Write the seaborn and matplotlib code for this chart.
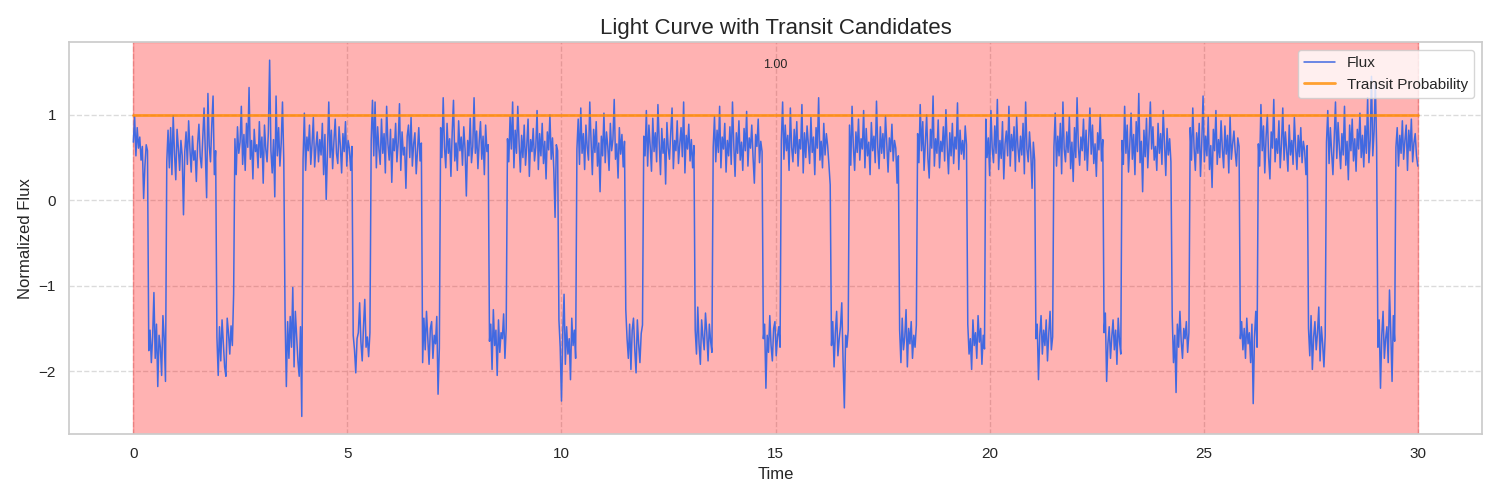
import numpy as np
import matplotlib
matplotlib.use("Agg")
import matplotlib.pyplot as plt
import seaborn as sns

# Flux readings (1000 samples over 0..30).
# One block per out-of-transit stretch followed by the dip that comes after it.
flux = [
    # 0.00 - 0.33
    0.68, 0.98, 0.52, 0.85, 0.61, 0.74, 0.47, 0.63, 0.02, 0.40, 0.65, 0.58,
    -1.76, -1.52, -1.90, -1.60, -1.08, -1.85, -1.45, -2.18, -1.58, -1.72, -2.05, -1.35, -1.62, -2.12,
    # 0.78 - 1.92
    0.45, 0.82, 0.38, 0.85, 0.30, 0.99, 0.55, 0.24, 0.83, 0.61,
    0.35, 0.70, 0.52, -0.17, 0.57, 0.80, 0.42, 0.93, 0.60, 0.33,
    0.75, 0.47, 0.58, 0.22, 0.66, 0.89, 0.51, 0.38, 0.72, 1.08,
    0.56, 0.03, 1.25, 0.64, 0.45, 0.88, 1.22, 0.30, 0.58,
    -1.60, -2.05, -1.48, -1.88, -1.40, -1.67, -1.95, -2.06, -1.38, -1.55, -1.80, -1.47, -1.70, -1.10,
    # 2.37 - 3.51
    0.72, 0.30, 0.86, 0.55, 0.68, 1.10, 0.42, 0.77, 0.35, 0.90,
    0.62, 1.32, 0.48, 0.70, 0.25, 0.83, 0.57, 0.65, 0.38, 0.92,
    0.50, 0.74, 0.20, 0.88, 0.60, 0.45, 0.79, 1.64, 0.58, 0.32,
    0.71, 0.04, 1.22, 0.52, 0.85, 0.40, 0.67, 1.15, 0.47,
    -1.35, -2.18, -1.42, -1.85, -1.36, -1.72, -1.02, -1.95, -1.30, -1.60, -1.88, -2.06, -1.48, -2.53,
    # 3.96 - 5.10
    0.48, 1.02, 0.35, 0.74, 0.58, 0.88, 0.42, 0.66, 0.97, 0.39,
    0.62, 0.80, 0.45, 0.71, 0.53, 0.90, 0.30, 0.77, 0.01, 0.60,
    1.15, 0.50, 0.82, 0.37, 0.69, 0.95, 0.55, 0.43, 0.86, 0.64,
    0.32, 0.78, 0.57, 0.92, 0.40, 0.70, 0.61, 0.35, 0.63,
    -1.58, -1.75, -2.02, -1.62, -1.55, -1.20, -1.66, -1.88, -1.48, -1.16, -1.72, -1.60, -1.83, -1.55,
    # 5.55 - 6.72
    0.70, 1.17, 0.52, 1.15, 0.38, 0.86, 0.60, 0.42, 0.95, 0.55,
    0.78, 0.32, 1.10, 0.66, 0.47, 0.83, 0.21, 0.72, 0.58, 0.90,
    0.45, 0.68, 1.13, 0.35, 0.80, 0.53, 0.62, 0.14, 0.75, 0.88,
    0.50, 0.97, 0.40, 0.66, 0.79, 0.31, 0.59, 0.85, 0.46, 0.67,
    -1.90, -1.38, -1.75, -1.30, -1.62, -1.92, -1.50, -1.42, -1.85, -1.58, -1.68, -1.36, -2.27, -1.73,
    # 7.18 - 8.29
    0.85, 0.50, 1.20, 0.62, 0.38, 0.90, 0.55, 0.72, 0.28, 0.80,
    1.17, 0.46, 0.67, 0.35, 0.93, 0.58, 0.74, 0.41, 0.86, 0.60,
    0.05, 0.70, 0.52, 0.96, 0.44, 0.63, 1.20, 0.55, 0.81, 0.37,
    0.69, 0.92, 0.48, 0.75, 0.30, 0.88, 0.57, 0.65,
    -1.65, -1.45, -1.98, -1.28, -1.70, -1.52, -2.05, -1.40, -1.78, -1.55, -1.62, -1.33, -1.85, -1.50,
    # 8.74 - 9.91
    0.72, 0.45, 0.98, 0.60, 1.15, 0.38, 0.82, 0.55, 1.10, 0.68,
    0.33, 0.76, 0.50, 0.88, 0.41, 0.64, 0.95, 0.28, 0.71, 0.57,
    0.84, 0.46, 0.62, 1.05, 0.36, 0.78, 0.52, 0.90, 0.43, 0.69,
    0.25, 0.80, 0.59, 1.00, 0.48, 0.73, 0.37, -0.20, 0.65, 0.58,
    -1.40, -1.72, -2.35, -1.55, -1.10, -1.92, -1.48, -1.80, -1.62, -2.10, -1.38, -1.70, -1.52, -1.85,
    # 10.36 - 11.47
    0.60, 0.95, 0.42, 1.08, 0.55, 0.78, 0.36, 0.88, 0.62, 0.47,
    1.15, 0.70, 0.30, 0.83, 0.56, 0.92, 0.40, 0.67, 0.10, 0.75,
    0.52, 1.02, 0.44, 0.80, 0.63, 0.35, 0.90, 0.58, 0.71, 1.18,
    0.48, 0.66, 0.26, 0.85, 0.54, 0.77, 0.39, 0.69,
    -1.28, -1.62, -1.85, -1.45, -1.98, -1.52, -1.38, -1.75, -2.02, -1.40, -1.68, -1.90, -1.56, -1.46,
    # 11.92 - 13.09
    0.75, 0.52, 1.05, 0.40, 0.88, 0.63, 0.34, 0.96, 0.57, 0.79,
    0.45, 1.12, 0.68, 0.30, 0.84, 0.55, 0.72, 0.19, 0.91, 0.61,
    0.48, 0.80, 1.08, 0.37, 0.70, 0.58, 0.93, 0.43, 0.66, 0.85,
    0.51, 1.15, 0.32, 0.76, 0.60, 0.89, 0.46, 0.71, 0.38, 0.64,
    -1.52, -1.80, -1.25, -1.68, -1.92, -1.40, -1.60, -1.75, -1.32, -1.55, -1.88, -1.45, -1.65, -1.78,
    # 13.54 - 14.69
    0.62, 0.98, 0.45, 0.82, 0.56, 1.10, 0.38, 0.74, 0.60, 0.90,
    0.33, 0.70, 0.52, 0.86, 0.42, 1.15, 0.65, 0.28, 0.79, 0.55,
    0.93, 0.47, 0.68, 0.35, 0.84, 0.58, 1.04, 0.40, 0.73, 0.61,
    0.88, 0.50, 0.20, 0.77, 0.63, 0.95, 0.44, 0.69, 0.57,
    -1.62, -1.45, -2.20, -1.58, -1.78, -1.35, -1.70, -1.88, -1.50, -1.42, -1.82, -1.60, -1.48, -1.72,
    # 15.13 - 16.28
    0.70, 1.15, 0.48, 0.88, 0.58, 0.76, 0.35, 1.08, 0.62, 0.45,
    0.83, 0.55, 0.92, 0.40, 0.71, 0.60, 1.12, 0.32, 0.79, 0.50,
    0.87, 0.66, 0.43, 0.97, 0.56, 0.74, 0.30, 0.85, 0.61, 1.20,
    0.47, 0.69, 0.38, 0.90, 0.53, 0.78, 0.64, 0.42, 0.18,
    -1.70, -1.42, -1.95, -1.55, -1.30, -1.82, -1.62, -1.48, -1.20, -1.88, -2.43, -1.58, -1.72, -1.52,
    # 16.73 - 17.87
    0.88, 0.41, 1.10, 0.63, 0.35, 0.80, 0.56, 0.95, 0.47, 0.72,
    0.60, 1.05, 0.38, 0.84, 0.52, 0.68, 0.30, 0.91, 0.58, 0.75,
    0.44, 1.16, 0.62, 0.37, 0.86, 0.55, 0.78, 0.49, 0.99, 0.66,
    0.33, 0.73, 0.57, 0.89, 0.46, 0.70, 0.61, 0.20, 0.52,
    -1.52, -1.90, -1.38, -1.75, -1.60, -1.28, -1.95, -1.50, -1.68, -1.42, -1.85, -1.58, -1.72, -1.46,
    # 18.32 - 19.46
    0.78, 0.44, 1.12, 0.58, 0.92, 0.35, 0.67, 1.00, 0.49, 0.26,
    0.83, 0.61, 1.22, 0.40, 0.72, 0.55, 0.94, 0.38, 0.69, 0.57,
    0.86, 0.46, 1.06, 0.63, 0.31, 0.79, 0.52, 0.90, 0.43, 0.74,
    0.60, 1.14, 0.36, 0.82, 0.54, 0.70, 0.48, 0.87, 0.65,
    -1.45, -1.80, -1.62, -1.98, -1.40, -1.70, -1.55, -1.85, -1.35, -1.66, -1.50, -1.92, -1.58, -1.74,
    # 19.91 - 21.05
    0.95, 0.50, 0.73, 0.29, 1.05, 0.61, 0.44, 0.87, 0.55, 1.18,
    0.36, 0.70, 0.49, 0.92, 0.25, 0.66, 0.81, 0.52, 1.10, 0.40,
    0.77, 0.58, 0.86, 0.34, 0.98, 0.62, 0.45, 0.75, 0.53, 0.90,
    0.31, 1.15, 0.60, 0.45, 0.80, 0.56, 0.14, 0.68, 0.47,
    -1.62, -1.45, -2.10, -1.58, -1.35, -1.80, -1.52, -1.70, -1.40, -1.88, -1.56, -1.30, -1.75, -1.60,
    # 21.50 - 22.64
    0.62, 1.02, 0.40, 0.75, 0.52, 0.90, 0.31, 1.15, 0.60, 0.45,
    0.80, 0.56, 0.98, 0.37, 0.68, 0.22, 0.85, 0.50, 1.20, 0.63,
    0.41, 0.74, 0.58, 0.95, 0.47, 0.82, 0.35, 0.70, 1.08, 0.54,
    0.88, 0.43, 0.66, 0.28, 0.79, 0.59, 1.00, 0.46, 0.71,
    -1.55, -1.32, -2.12, -1.68, -1.48, -1.85, -1.60, -1.40, -1.75, -1.52, -1.92, -1.38, -1.65, -1.80,
    # 23.09 - 24.23
    0.70, 0.42, 1.10, 0.55, 0.88, 0.33, 0.65, 1.02, 0.48, 0.77,
    0.30, 0.92, 0.57, 1.25, 0.44, 0.69, 0.10, 0.82, 0.51, 0.96,
    0.38, 0.74, 1.15, 0.60, 0.86, 0.47, 0.63, 0.35, 0.90, 0.55,
    0.78, 0.42, 1.05, 0.67, 0.29, 0.84, 0.53, 0.72, 0.45,
    -1.35, -1.90, -1.58, -2.25, -1.45, -1.72, -1.30, -1.65, -1.85, -1.50, -1.62, -1.42, -1.78, -1.55,
    # 24.68 - 25.83
    0.85, 0.47, 1.08, 0.62, 0.35, 0.79, 0.55, 0.90, 0.28, 0.68,
    1.22, 0.45, 0.75, 0.52, 0.98, 0.36, 0.64, 0.15, 0.83, 0.58,
    1.05, 0.42, 0.71, 0.50, 0.93, 0.60, 0.38, 0.87, 0.54, 0.76,
    0.32, 0.99, 0.48, 0.66, 0.81, 0.57, 0.40, 0.73, 0.63,
    -1.62, -1.42, -1.75, -1.50, -1.85, -1.38, -1.68, -1.55, -1.90, -1.45, -2.38, -1.60, -1.30, -1.72,
    # 26.28 - 27.42
    0.66, 0.40, 1.12, 0.58, 0.87, 0.32, 0.74, 1.00, 0.50, 0.25,
    0.80, 0.61, 1.18, 0.45, 0.72, 0.55, 0.93, 0.38, 0.66, 1.08,
    0.47, 0.80, 0.59, 0.34, 0.88, 0.53, 0.70, 0.42, 0.97, 0.62,
    0.36, 0.76, 0.51, 0.85, 0.44, 0.69, 0.58, 0.30, 0.64,
    -1.50, -1.82, -1.35, -1.98, -1.60, -1.42, -1.75, -1.55, -1.25, -1.88, -1.48, -1.68, -1.95, -1.58,
    # 27.87 - 29.04
    0.68, 1.05, 0.43, 0.85, 0.56, 0.30, 0.74, 1.15, 0.49, 0.91,
    0.62, 0.37, 0.78, 0.53, 1.10, 0.41, 0.69, 0.24, 0.88, 0.58,
    0.95, 0.46, 0.72, 0.34, 0.83, 0.60, 1.02, 0.50, 0.76, 0.39,
    0.87, 0.55, 1.20, 0.44, 0.70, 1.45, 0.52, 0.80, 1.38, 0.62,
    -1.72, -1.40, -2.20, -1.58, -1.30, -1.85, -1.62, -1.48, -1.90, -1.05, -1.55, -2.12, -1.35, -1.65,
    # 29.49 - 30.00
    0.62, 0.85, 0.40, 0.76, 0.55, 0.93, 0.48, 0.70, 0.88, 0.35,
    0.82, 0.58, 0.95, 0.45, 0.67, 0.78, 0.52, 0.40,
]
time_start, time_end = 0.0, 30.0
time = np.linspace(time_start, time_end, len(flux))

# transit probability stayed flat at 1.00 over the whole run
transit_prob = [1.0] * len(flux)

# candidate windows: (start, end, probability)
candidates = [(0.0, 30.0, 1.0)]

sns.set_theme(style="whitegrid")
plt.rcParams['font.family'] = ['Liberation Sans', 'DejaVu Sans']

fig, ax = plt.subplots(figsize=(15, 5), dpi=100)

sns.lineplot(x=time, y=flux, ax=ax, color='royalblue', linewidth=1.1, label='Flux')
sns.lineplot(x=time, y=transit_prob, ax=ax, color='darkorange', linewidth=2,
             alpha=0.8, label='Transit Probability')

for start, end, prob in candidates:
    ax.axvspan(start, end, color='red', alpha=0.3)
    ax.text((start + end) / 2, 1.58, f"{prob:.2f}", ha='center', va='center', fontsize=9)

ax.set_title("Light Curve with Transit Candidates", fontsize=16)
ax.set_xlabel("Time")
ax.set_ylabel("Normalized Flux")
ax.grid(True, linestyle='--', alpha=0.7)
ax.legend(loc='upper right')

plt.tight_layout()
plt.savefig("out.png", dpi=100)
plt.close()
